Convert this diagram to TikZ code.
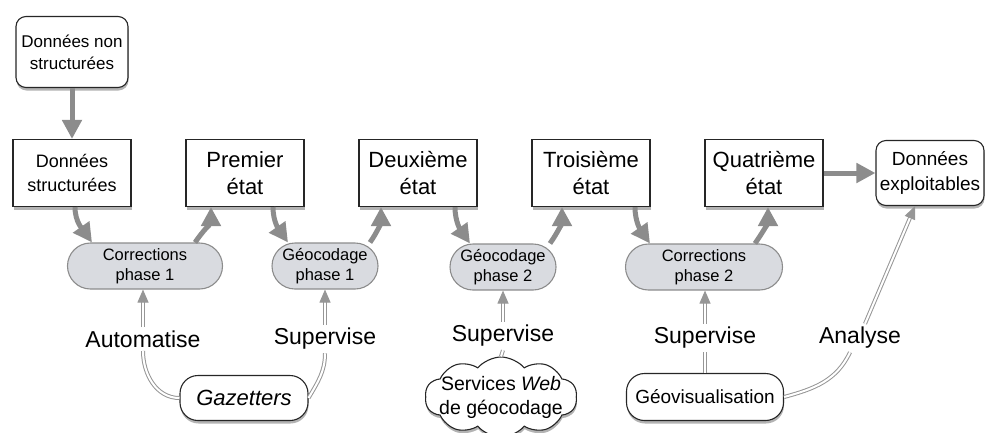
\documentclass[tikz,border=0pt]{standalone}
\usepackage{fontspec}
\setmainfont{Liberation Sans}
\usetikzlibrary{arrows.meta,shapes.misc,shapes.symbols,shadows}
\definecolor{flowgray}{RGB}{140,140,140}
\definecolor{linkgray}{RGB}{150,150,150}
\definecolor{pillfill}{RGB}{217,219,224}

\begin{document}
\begin{tikzpicture}[x=1pt,y=1pt,node distance=173pt,
 shade/.style={drop shadow={shadow xshift=0.5pt,shadow yshift=-3pt,opacity=.6}},
 box/.style={rectangle,draw=black!85,line width=1.1pt,fill=white,align=center,minimum width=118pt,minimum height=67pt,shade},
 etat/.style={box,font=\fontsize{22}{27}\selectfont},
 data/.style={box,font=\fontsize{18}{24}\selectfont},
 phase/.style={rounded rectangle,draw=flowgray,line width=1.1pt,fill=pillfill,align=center,minimum height=46pt,inner xsep=2pt,font=\fontsize{16.5}{20}\selectfont},
 tool/.style={rectangle,rounded corners=18pt,draw=black!85,line width=1.1pt,fill=white,align=center,minimum height=45pt,shade},
 act/.style={font=\fontsize{23}{27}\selectfont},
 flow/.style={draw=flowgray,line width=5pt,-{Triangle[length=19pt,width=19pt]}},
 link/.style={draw=linkgray,line width=1pt,double=white,double distance=2pt},
 linkarrow/.style={link,-{Triangle[length=13pt,width=11pt]}}]
 \useasboundingbox (0,0) rectangle (985,-432);

 % main row of states
 \node[data] (ds) at (72,-173) {Données\\structurées};
 \node[etat] (e1) [right of=ds] {Premier\\état};
 \node[etat] (e2) [right of=e1] {Deuxième\\état};
 \node[etat] (e3) [right of=e2] {Troisième\\état};
 \node[etat] (e4) [right of=e3] {Quatrième\\état};
 \node[data,rounded corners=10pt,minimum width=108pt,minimum height=65pt,font=\fontsize{19}{25}\selectfont] (dex) [right of=e4,node distance=166pt] {Données\\exploitables};
 \node[data,rounded corners=10pt,minimum width=112pt,minimum height=71pt,font=\fontsize{17}{22}\selectfont] (dns) [above of=ds,node distance=121pt] {Données non\\structurées};

 % processing phases
 \node[phase,minimum width=159pt] (c1) at (145,-266) {Corrections\\phase 1};
 \node[phase,minimum width=110pt] (g1) at (325,-266) {Géocodage\\phase 1};
 \node[phase,minimum width=110pt] (g2) at (503,-267) {Géocodage\\phase 2};
 \node[phase,minimum width=161pt] (c2) at (704,-267) {Corrections\\phase 2};

 % actions
 \node[act] (a1) at (143,-339) {Automatise};
 \node[act] (a2) at (325,-339) {Supervise};
 \node[act] (a3) at (503,-336) {Supervise};
 \node[act] (a4) at (705,-338) {Supervise};
 \node[act] (an) at (860,-338) {Analyse};

 % tools
 \node[tool,minimum width=128pt,font=\fontsize{22}{26}\selectfont\itshape] (gaz) at (244,-398) {Gazetters};
 \node[cloud,cloud puffs=10,cloud puff arc=100,aspect=1.8,draw=black!85,line width=1.1pt,fill=white,inner sep=0pt,minimum width=152pt,minimum height=80pt,align=center,font=\fontsize{19.5}{24}\selectfont,shade] (web) at (501,-397)
  {\makebox[80pt]{Services \textit{Web}}\\\makebox[80pt]{de géocodage}};
 \node[tool,minimum width=157pt,minimum height=47pt,font=\fontsize{19}{23}\selectfont] (geo) at (705,-397) {Géovisualisation};

 % data flow
 \draw[flow] (dns) -- (ds);
 \draw[flow] (e4) -- (dex);
 \draw[flow] ([xshift=3pt]ds.south) to[out=-90,in=125] ([xshift=-53pt]c1.north);
 \draw[flow] ([xshift=50pt]c1.north) to[out=55,in=-90] ([xshift=-34pt]e1.south);
 \draw[flow] ([xshift=28pt]e1.south) to[out=-90,in=125] ([xshift=-37pt]g1.north);
 \draw[flow] ([xshift=45pt]g1.north) to[out=55,in=-90] ([xshift=-37pt]e2.south);
 \draw[flow] ([xshift=37pt]e2.south) to[out=-90,in=125] ([xshift=-33pt]g2.north);
 \draw[flow] ([xshift=47pt]g2.north) to[out=55,in=-90] ([xshift=-29pt]e3.south);
 \draw[flow] ([xshift=44pt]e3.south) to[out=-90,in=125] ([xshift=-54pt]c2.north);
 \draw[flow] ([xshift=51pt]c2.north) to[out=55,in=-90] ([xshift=4pt]e4.south);

 % tools and actions
 \draw[linkarrow] (a1.north) -- (a1.north |- c1.south);
 \draw[linkarrow] (a2.north) -- (a2.north |- g1.south);
 \draw[linkarrow] (a3.north) -- (a3.north |- g2.south);
 \draw[linkarrow] (a4.north) -- (a4.north |- c2.south);
 \draw[link] (a1.south) to[out=-90,in=180] (gaz.west);
 \draw[link] (gaz.east) to[out=60,in=-90] (a2.south);
 \draw[link] (web.north) -- (a3.south);
 \draw[link] (geo.north) -- (a4.south);
 \draw[link] (geo.east) to[out=15,in=-115] ([xshift=-10pt]an.south);
 \draw[linkarrow] ([xshift=5pt]an.north) -- ([xshift=-15pt]dex.south);
\end{tikzpicture}
\end{document}
